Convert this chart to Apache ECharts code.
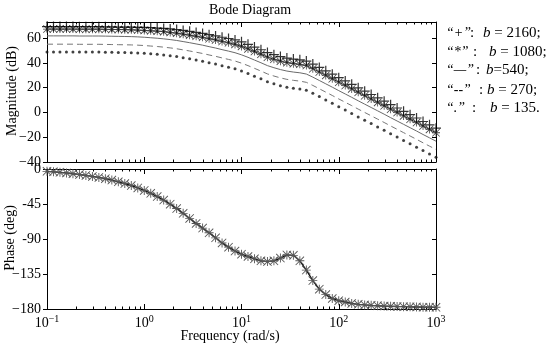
<!DOCTYPE html>
<html><head><meta charset="utf-8">
<script src="https://cdn.jsdelivr.net/npm/echarts@6/dist/echarts.min.js"></script>
<style>html,body{margin:0;padding:0;background:#fff}#c{width:550px;height:346px}</style>
</head><body><div id="c"></div>
<script>
// ---- data ----
const freq = [0.1,0.1166,0.1359,0.1585,0.1848,0.2154,0.2512,0.2929,0.3415,0.3981,0.4642,0.5412,0.631,0.7356,0.8577,
  1,1.166,1.359,1.585,1.848,2.154,2.512,2.929,3.415,3.981,4.642,5.412,6.31,7.356,8.577,
  10,11.66,13.59,15.85,18.48,21.54,25.12,29.29,34.15,39.81,46.42,54.12,63.1,73.56,85.77,
  100,116.6,135.9,158.5,184.8,215.4,251.2,292.9,341.5,398.1,464.2,541.2,631,735.6,857.7,1000];
const magPlus = [69.3,69.3,69.3,69.3,69.3,69.2,69.2,69.2,69.2,69.1, 69.0,68.9,68.8,68.8,68.7,68.6,68.4,68.1,67.8,67.4,
  66.9,66.2,65.5,64.6,63.8,62.8,61.8,60.7,59.7,58.5, 57.0,55.0,52.8,50.6,48.3,46.6,45.1,43.9,43.1,42.5,
  41.5,39.0,36.3,33.6,30.9,28.1,25.4,22.7,19.9,17.2, 14.5,11.8,9.1,6.3,3.6,0.9,-1.8,-4.5,-7.3,-10.0, -12.7];
const magStar = [67.3,67.3,67.3,67.3,67.3,67.2,67.2,67.2,67.2,67.1, 67.0,66.9,66.8,66.7,66.5,66.2,65.9,65.6,65.2,64.6,
  64.0,63.2,62.4,61.5,60.6,59.5,58.5,57.3,56.2,54.9, 53.3,51.3,49.1,46.9,44.6,42.9,41.4,40.2,39.4,38.8,
  37.8,35.3,32.6,29.9,27.2,24.4,21.7,19.0,16.2,13.5, 10.8,8.1,5.4,2.6,-0.1,-2.8,-5.5,-8.2,-11.0,-13.7, -16.4];
const magSolid = [61.8,61.8,61.8,61.8,61.8,61.7,61.7,61.7,61.7,61.6, 61.5,61.4,61.3,61.2,61.0,60.7,60.3,59.9,59.4,58.8,
  58.1,57.2,56.3,55.3,54.3,53.1,52.0,50.7,49.5,48.2, 46.5,44.5,42.3,40.1,37.8,36.1,34.6,33.4,32.6,32.0,
  31.0,28.5,25.8,23.1,20.4,17.6,14.9,12.2,9.4,6.7, 4.0,1.3,-1.4,-4.2,-6.9,-9.6,-12.3,-15.0,-17.8,-20.5, -23.2];
const magDashed = [55.1,55.1,55.1,55.1,55.1,55.0,55.0,55.0,55.0,54.9, 54.8,54.7,54.6,54.5,54.3,54.0,53.6,53.2,52.7,52.1,
  51.4,50.5,49.6,48.6,47.6,46.4,45.3,44.0,42.8,41.5, 39.8,37.8,35.6,33.4,31.1,29.4,27.9,26.7,25.9,25.3,
  24.3,21.8,19.1,16.4,13.7,10.9,8.2,5.5,2.7,0.0, -2.7,-5.4,-8.1,-10.9,-13.6,-16.3,-19.0,-21.7,-24.5,-27.2, -29.9];
const magDotted = [48.8,48.8,48.8,48.8,48.8,48.7,48.7,48.7,48.7,48.6, 48.5,48.4,48.3,48.2,48.0,47.7,47.3,46.9,46.4,45.8,
  45.1,44.2,43.3,42.3,41.3,40.1,39.0,37.7,36.5,35.2, 33.5,31.5,29.3,27.1,24.8,23.1,21.6,20.4,19.6,19.0,
  18.0,15.5,12.8,10.1,7.4,4.6,1.9,-0.8,-3.6,-6.3, -9.0,-11.7,-14.4,-17.2,-19.9,-22.6,-25.3,-28.0,-30.8,-33.5, -36.2];
const phase = [-3.0,-3.6,-4.3,-5.1,-6.1,-7.1,-8.3,-9.5,-10.8,-12.5, -14.3,-16.4,-18.7,-21.3,-24.3,-27.5,-31.2,-35.5,-40.0,-45.2,
  -50.8,-57.0,-63.5,-70.0,-76.0,-82.0,-88.5,-95.0,-100.5,-105.5, -109.5,-112.5,-115.5,-118.0,-119.0,-118.0,-114.5,-110.5,-111.0,-118.0,
  -130.0,-143.5,-154.5,-161.5,-166.5,-169.3,-171.0,-172.8,-174.0,-174.7, -175.3,-175.8,-176.2,-176.5,-176.8,-177.0,-177.2,-177.4,-177.6,-177.7, -177.8];

const magTicks = [-40,-20,0,20,40,60];
const magTickLabels = ['\u221240','\u221220','0','20','40','60'];
const phaseTicks = [-180,-135,-90,-45,0];
const phaseTickLabels = ['\u2212180','\u2212135','-90','-45','0'];
const freqTickExp = [-1,0,1,2,3];
const freqTickLabels = ['\u22121','0','1','2','3'];

const legendQuote = ['\u201c+\u201d','\u201c*\u201d','\u201c\u2014\u201d','\u201c--\u201d','\u201c.\u201d'];
const legendText = ['b = 2160;','b = 1080;','b=540;','b = 270;','b = 135.'];

// ---- chart ----
const FONT = '"Liberation Serif","Times New Roman",serif';
const minorExp = [];
for (let n = -1; n < 3; n++) for (let k = 2; k <= 9; k++) minorExp.push(Math.log10(k * Math.pow(10, n)));

const pairs = arr => freq.map((f, i) => [f, arr[i]]);
const plusPath = 'path://M4.4,0L5.6,0L5.6,10L4.4,10Z M0,4.4L10,4.4L10,5.6L0,5.6Z';
const starPath = 'path://M4.5,0L5.5,0L5.5,10L4.5,10Z M0,4.5L10,4.5L10,5.5L0,5.5Z M0,0.7L0.7,0L10,9.3L9.3,10Z M9.3,0L10,0.7L0.7,10L0,9.3Z';
const black = {color: '#000', width: 1};

function decoX(gi, labels) {
  const base = {type: 'value', gridIndex: gi, min: -1, max: 3, splitLine: {show: false}};
  const lab = labels ? {
    show: true, customValues: freqTickExp, margin: 5,
    formatter: v => '{b|10}{s|' + freqTickLabels[freqTickExp.indexOf(v)] + '}',
    rich: {b: {fontSize: 14, fontFamily: FONT, color: '#000'},
           s: {fontSize: 10, fontFamily: FONT, color: '#000', padding: [0, 0, 8, 0]}}
  } : {show: false};
  return [
    Object.assign({}, base, {position: 'bottom', axisLine: {show: true, onZero: false, lineStyle: black},
      axisTick: {show: true, inside: true, length: 5, customValues: freqTickExp, lineStyle: black}, axisLabel: lab}),
    Object.assign({}, base, {position: 'bottom', axisLine: {show: false, onZero: false},
      axisTick: {show: true, inside: true, length: 2.5, customValues: minorExp, lineStyle: black}, axisLabel: {show: false}}),
    Object.assign({}, base, {position: 'top', axisLine: {show: true, onZero: false, lineStyle: black},
      axisTick: {show: true, inside: true, length: 5, customValues: freqTickExp, lineStyle: black}, axisLabel: {show: false}}),
    Object.assign({}, base, {position: 'top', axisLine: {show: false, onZero: false},
      axisTick: {show: true, inside: true, length: 2.5, customValues: minorExp, lineStyle: black}, axisLabel: {show: false}})
  ];
}
function logX(gi) {
  return {type: 'log', logBase: 10, gridIndex: gi, min: 0.1, max: 1000, show: false,
          axisLine: {onZero: false}, splitLine: {show: false}};
}
function yPair(gi, min, max, ticks, labels) {
  return [
    {type: 'value', gridIndex: gi, min: min, max: max, position: 'left', splitLine: {show: false},
     axisLine: {show: true, onZero: false, lineStyle: black},
     axisTick: {show: true, inside: false, length: 4, customValues: ticks, lineStyle: black},
     axisLabel: {show: true, customValues: ticks, margin: 6, fontSize: 14, fontFamily: FONT, color: '#000',
                 formatter: v => labels[ticks.indexOf(v)]}},
    {type: 'value', gridIndex: gi, min: min, max: max, position: 'right', splitLine: {show: false},
     axisLine: {show: true, onZero: false, lineStyle: black},
     axisTick: {show: true, inside: true, length: 4, customValues: ticks, lineStyle: black},
     axisLabel: {show: false}}
  ];
}

const xAxes = [logX(0)].concat(decoX(0, false), [logX(1)], decoX(1, true));
const yAxes = yPair(0, -40, 73, magTicks, magTickLabels).concat(yPair(1, -180, 0, phaseTicks, phaseTickLabels));

const graphics = [
  {type: 'text', x: 250, y: 10, style: {text: 'Bode Diagram', font: '14px ' + FONT, fill: '#000',
    textAlign: 'center', textVerticalAlign: 'middle', align: 'center', verticalAlign: 'middle'}},
  {type: 'text', x: 12, y: 91, rotation: Math.PI / 2, style: {text: 'Magnitude (dB)', font: '14px ' + FONT, fill: '#000',
    textAlign: 'center', textVerticalAlign: 'middle', align: 'center', verticalAlign: 'middle'}},
  {type: 'text', x: 10, y: 238, rotation: Math.PI / 2, style: {text: 'Phase (deg)', font: '14px ' + FONT, fill: '#000',
    textAlign: 'center', textVerticalAlign: 'middle', align: 'center', verticalAlign: 'middle'}},
  {type: 'text', x: 230, y: 336, style: {text: 'Frequency (rad/s)', font: '14px ' + FONT, fill: '#000',
    textAlign: 'center', textVerticalAlign: 'middle', align: 'center', verticalAlign: 'middle'}}
];
const legY = [33, 52, 70, 90, 108];
const legColon = [470, 473, 476, 479, 472];
const legB = [483, 489, 486, 487, 490];
legendQuote.forEach((q, i) => {
  graphics.push({type: 'text', x: 446, y: legY[i], style: {text: q, font: 'italic 14px ' + FONT, fill: '#000',
    textVerticalAlign: 'middle', verticalAlign: 'middle'}});
  graphics.push({type: 'text', x: legColon[i], y: legY[i], style: {text: ':', font: '15px ' + FONT, fill: '#000',
    textVerticalAlign: 'middle', verticalAlign: 'middle'}});
  graphics.push({type: 'text', x: legB[i], y: legY[i], style: {
    text: '{i|b}{n|' + legendText[i].slice(1) + '}',
    rich: {i: {font: 'italic 15px ' + FONT, fill: '#000'}, n: {font: '15px ' + FONT, fill: '#000'}},
    textVerticalAlign: 'middle', verticalAlign: 'middle'}});
});

const chart = echarts.init(document.getElementById('c'), null, {renderer: 'canvas'});
chart.setOption({
  animation: false,
  backgroundColor: '#fff',
  grid: [{left: 47, top: 22, width: 389, height: 140}, {left: 47, top: 169, width: 389, height: 140}],
  xAxis: xAxes,
  yAxis: yAxes,
  graphic: graphics,
  series: [
    {name: 'b=540', type: 'line', xAxisIndex: 0, yAxisIndex: 0, data: pairs(magSolid), showSymbol: false,
     lineStyle: {color: '#6a6a6a', width: 1}, z: 2},
    {name: 'b=270', type: 'line', xAxisIndex: 0, yAxisIndex: 0, data: pairs(magDashed), showSymbol: false,
     lineStyle: {color: '#777', width: 1, type: [6, 4]}, z: 2},
    {name: 'b=135', type: 'scatter', xAxisIndex: 0, yAxisIndex: 0, data: pairs(magDotted), symbol: 'circle',
     symbolSize: 3, itemStyle: {color: '#111'}, z: 3},
    {name: 'b=1080', type: 'line', xAxisIndex: 0, yAxisIndex: 0, data: pairs(magStar), showAllSymbol: true,
     symbol: starPath, symbolSize: 8, itemStyle: {color: '#444'}, lineStyle: {color: '#222', width: 1}, z: 4},
    {name: 'b=2160', type: 'scatter', xAxisIndex: 0, yAxisIndex: 0, data: pairs(magPlus), symbol: plusPath,
     symbolSize: 10, itemStyle: {color: '#000'}, z: 5},
    {name: 'phase', type: 'line', xAxisIndex: 5, yAxisIndex: 2, data: pairs(phase), showAllSymbol: true,
     symbol: starPath, symbolSize: 9, itemStyle: {color: '#555'}, lineStyle: {color: '#111', width: 1.3}, z: 4}
  ]
});
</script></body></html>
